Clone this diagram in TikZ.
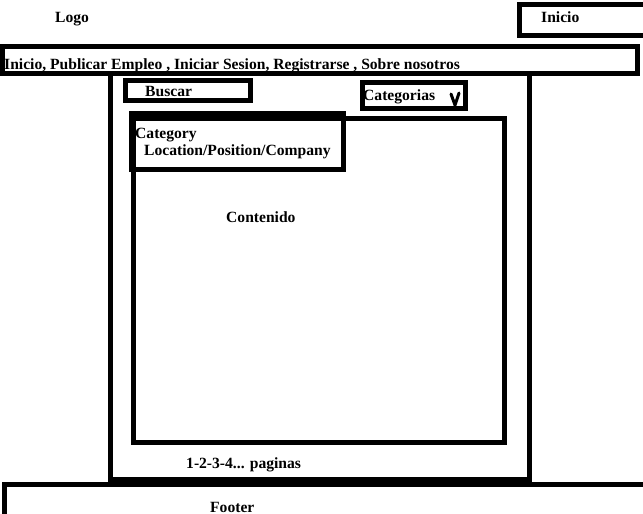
\documentclass[tikz,border=0pt]{standalone}
\usepackage{fontspec}
\setmainfont{Liberation Serif}

\tikzset{
  frame/.style={draw, line width=5pt, line join=miter},
  lbl/.style={anchor=base west, inner sep=0pt, font=\bfseries\fontsize{15.6}{19}\selectfont},
}

\begin{document}
\begin{tikzpicture}[x=1pt,y=-1pt]
\useasboundingbox (0,0) rectangle (643,514);
\clip (0,0) rectangle (643,514);

% draw header
\node[lbl] (logo) at (55,23) {Logo};
\draw[frame] (650,4) -- (519,4) -- (519,35.5) -- (650,35.5);
\node[lbl] (inicio) at (541,23) {Inicio};

% draw menu bar
\draw[frame] (2.5,46.5) rectangle (637.5,73.5);
\node[lbl] (menu) at (4,69.5) {Inicio, Publicar Empleo , Iniciar Sesion, Registrarse , Sobre nosotros};

% draw main container
\draw[frame] (110,73.5) -- (110,479) -- (529,479) -- (529,73.5);

% search and categories
\draw[frame] (125.5,80.5) rectangle (250.5,100.5);
\node[lbl] (buscar) at (145,96) {Buscar};
\draw[frame] (362.5,82.5) rectangle (465.5,108.5);
\node[lbl] (categorias) at (363,100) {Categorias};
\draw[line width=3pt, line cap=round] (451,94) -- (455,105) -- (459,93);

% content area
\draw[frame] (133.5,118) rectangle (504,442);
\draw[frame] (131.5,113.5) rectangle (343.5,169.5);
\node[lbl] (category) at (135,138) {Category};
\node[lbl] (filtro) at (144,155) {Location/Position/Company};
\node[lbl] (contenido) at (226,222) {Contenido};
\node[lbl] (paginas) at (186,468) {1-2-3-4... paginas};

% draw footer
\draw[frame] (4,520) -- (4,484) -- (650,484);
\node[lbl] (footer) at (210,512) {Footer};

\end{tikzpicture}
\end{document}
